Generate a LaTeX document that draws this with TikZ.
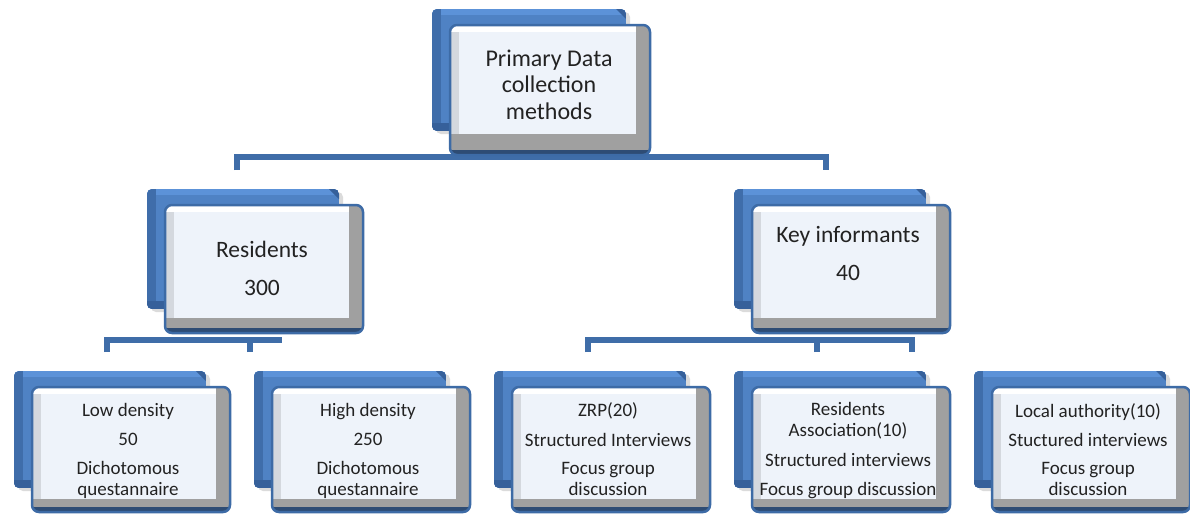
\documentclass[tikz,border=0pt]{standalone}
\usepackage{fontspec}
\setmainfont{Carlito}
\usetikzlibrary{fit}

\definecolor{slab}{HTML}{4F82C4}
\definecolor{slabtop}{HTML}{5C92D8}
\definecolor{slabside}{HTML}{3F6DAA}
\definecolor{slabbase}{HTML}{36609A}
\definecolor{bevel}{HTML}{A0A0A0}
\definecolor{bevelleft}{HTML}{D4D8DE}
\definecolor{face}{HTML}{EEF3FA}
\definecolor{rim}{HTML}{3D6BA6}
\definecolor{rimdark}{HTML}{2E4C74}
\definecolor{link}{HTML}{3F6DA8}
\definecolor{ink}{HTML}{222222}

\tikzset{
  x=1pt, y=-1pt,
  conn/.style={draw=link, line width=6pt},
  frontrim/.style={draw=rim, line width=2.5pt, rounded corners=7pt, inner sep=0pt, outer sep=0pt},
  backbody/.style={inner sep=0pt, outer sep=0pt},
  lbl/.style={anchor=base, inner sep=0pt, text=ink},
  bigtext/.style={lbl, font=\fontsize{24}{26.5}\selectfont},
  midtext/.style={lbl, font=\fontsize{23.5}{27}\selectfont},
  smalltext/.style={lbl, font=\fontsize{19}{21}\selectfont},
}

% centred lines whose baseline is the first line's baseline
\newcommand\lines[1]{\begin{tabular}[t]{@{}c@{}}#1\end{tabular}}

% a bevelled card with a blue slab behind it
% [#1 depth of the lower bevel], #2 name, #3 left, #4 top, #5 right, #6 bottom
\newcommand\card[6][15]{%
  % blue slab behind the card
  \fill[black!14, rounded corners=5pt] (#3-14,#4-13) rectangle (#5-20,#6-21);
  \begin{scope}
    \clip[rounded corners=5pt] (#3-18,#4-16) rectangle (#5-24,#6-24);
    \fill[slab] (#3-18,#4-16) rectangle (#5-24,#6-24);
    \fill[slabtop] (#3-18,#4-16) rectangle (#5-24,#4-10);
    \fill[slabside] (#3-18,#4-16) rectangle (#3-9,#6-24);
    \fill[slabbase] (#3-18,#6-32) rectangle (#5-24,#6-24);
    \fill[slabbase] (#5-34,#4-16) -- (#5-24,#4-16) -- (#5-24,#4-6) -- cycle;
  \end{scope}
  \node[backbody, fit={(#3-18,#4-16) (#5-24,#6-24)}] (#2back) {};
  % front card with bevelled edges
  \begin{scope}
    \clip[rounded corners=7pt] (#3,#4) rectangle (#5,#6);
    \fill[bevel] (#3,#4) rectangle (#5,#6);
    \fill[bevelleft] (#3,#4) rectangle (#5-14,#6-#1);
    \fill[white] (#3,#4) rectangle (#5-14,#4+7);
    \fill[face] (#3+9,#4+7) rectangle (#5-14,#6-#1);
    \fill[rimdark] (#3,#6-5) rectangle (#5,#6);
  \end{scope}
  \node[frontrim, fit={(#3,#4) (#5,#6)}] (#2) {};
}

\begin{document}
\begin{tikzpicture}
\useasboundingbox[fill=white] (0,0) rectangle (1190,515);

% free ends of the connectors
\coordinate (dTL) at (237,170);
\coordinate (dTR) at (826,170);
\coordinate (dRL) at (107,352);
\coordinate (dRR) at (250,352);
\coordinate (eR)  at (282,340);
\coordinate (dK1) at (588,352);
\coordinate (dK2) at (817,352);
\coordinate (dK3) at (912,352);

% connectors (behind the cards)
\draw[conn] (dTL) |- (dTR |- 0,157) -- (dTR);
\draw[conn] (dRL) |- (eR);
\draw[conn] (dRR) -- (dRR |- eR);
\draw[conn] (dK1) |- (dK3 |- 0,340) -- (dK3);
\draw[conn] (dK2) -- (dK2 |- 0,340);

% cards
\card[21]{top}{450}{25}{650}{155}
\card{res}{165}{205}{363}{333}
\card{key}{752}{205}{950}{333}
\card[13]{low}{32}{387}{230}{512}
\card[13]{high}{272}{387}{470}{512}
\card[13]{zrp}{512}{387}{710}{512}
\card[13]{ra}{752}{387}{950}{512}
\card[13]{la}{992}{387}{1190}{512}

% texts
\node[bigtext] (topT) at (549,66) {\lines{Primary Data\\collection\\methods}};
\node[midtext] (resT) at (262,257) {\lines{Residents\\[11pt]300}};
\node[midtext] (keyT) at (848,242) {\lines{Key informants\\[11pt]40}};
\node[smalltext] (lowT) at (128,416) {\lines{Low density\\[8pt]50\\[8pt]Dichotomous\\questannaire}};
\node[smalltext] (highT) at (368,416) {\lines{High density\\[8pt]250\\[8pt]Dichotomous\\questannaire}};
\node[smalltext] (zrpT) at (608,416) {\lines{ZRP(20)\\[9pt]Structured Interviews\\[7pt]Focus group\\discussion}};
\node[smalltext] (raT) at (848,415) {\lines{Residents\\Association(10)\\[9pt]Structured interviews\\[8pt]Focus group discussion}};
\node[smalltext] (laT) at (1088,417) {\lines{Local authority(10)\\[8pt]Stuctured interviews\\[7pt]Focus group\\discussion}};
\end{tikzpicture}
\end{document}
